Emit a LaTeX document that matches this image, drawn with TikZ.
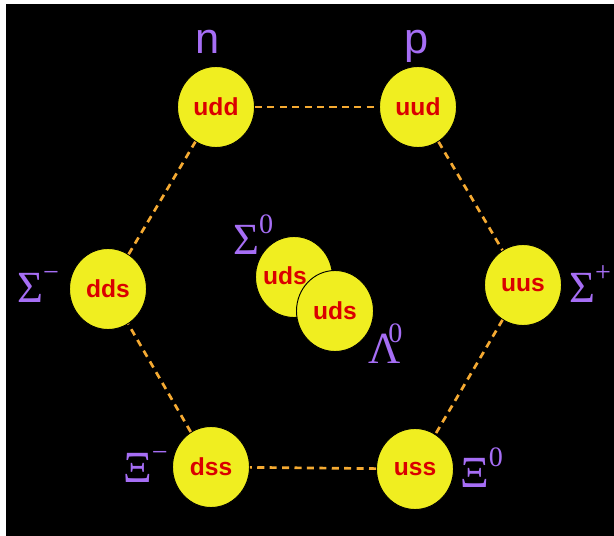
\documentclass[tikz,border=0pt]{standalone}
\usepackage{fontspec}
\setmainfont{Liberation Sans}
\newfontfamily\griega{Liberation Serif}
\usepackage{tikz}
\usetikzlibrary{shapes.geometric, positioning}
\definecolor{amarillo}{RGB}{240,238,32}
\definecolor{rojoq}{RGB}{218,0,0}
\definecolor{morado}{RGB}{166,110,245}
\definecolor{naranja}{RGB}{245,170,50}
\newcommand{\hiperon}[3][0pt]{{\griega\fontsize{38}{40}\selectfont #2\kern#1\raisebox{0.47em}{\fontsize{24}{26}\selectfont #3}}}
\tikzset{
  quark/.style={ellipse, minimum width=2.31cm, minimum height=2.43cm, inner sep=0pt, draw=black, line width=0.8pt, fill=amarillo, text=rojoq, font=\bfseries\fontsize{21}{24}\selectfont},
  etiqueta/.style={inner sep=0pt, text=morado},
  enlace/.style={draw=naranja, line width=2.3pt, dash pattern=on 6pt off 4.6pt}
}
\begin{document}
\begin{tikzpicture}[x=0.03cm, y=-0.03cm]

            % Fondo
            \useasboundingbox (0,0) rectangle (614,536);
            \fill[white] (0,0) rectangle (614,536);
            \fill[black] (6,4) rectangle (614,536);

            % Bariones del octete
            \node (udd) [quark] at (216,107) {udd};
            \node (uud) [quark] at (418,107) {uud};
            \node (dds) [quark] at (108,289) {dds};
            \node (uus) [quark] at (523,285) {uus};
            \node (dss) [quark] at (211,467) {dss};
            \node (uss) [quark] at (415,469) {uss};

            % Centro: Sigma0 y Lambda0 superpuestos
            \node (uds_s) [quark] at (294,277) {\raisebox{0.09cm}{\makebox[0pt]{uds\kern0.54cm}}};
            \node (uds_l) [quark] at (335,311) {uds};

            % Hexagono punteado
            \draw [enlace] (udd) -- (uud);
            \draw [enlace] (uud) -- (uus);
            \draw [enlace] (uus) -- (uss);
            \draw [enlace] (uss) -- (dss);
            \draw [enlace] (dss) -- (dds);
            \draw [enlace] (dds) -- (udd);

            % Etiquetas
            \node (etq_n) [etiqueta, anchor=base, font=\fontsize{37}{40}\selectfont] at (208,54) {n};
            \node (etq_p) [etiqueta, anchor=base, font=\fontsize{37}{40}\selectfont] at (417,54) {p};
            \node (etq_sm) [etiqueta, anchor=base west] at (17,302) {\hiperon{Σ}{−}};
            \node (etq_sp) [etiqueta, anchor=base west] at (569,302) {\hiperon{Σ}{+}};
            \node (etq_s0) [etiqueta, anchor=base west] at (233,254) {\hiperon{Σ}{0}};
            \node (etq_l0) [etiqueta, anchor=base west] at (368,363) {\hiperon[-0.27em]{Λ}{0}};
            \node (etq_xm) [etiqueta, anchor=base west] at (123,482) {\hiperon{Ξ}{−}};
            \node (etq_x0) [etiqueta, anchor=base west] at (460,487) {\hiperon{Ξ}{0}};

\end{tikzpicture}
\end{document}
